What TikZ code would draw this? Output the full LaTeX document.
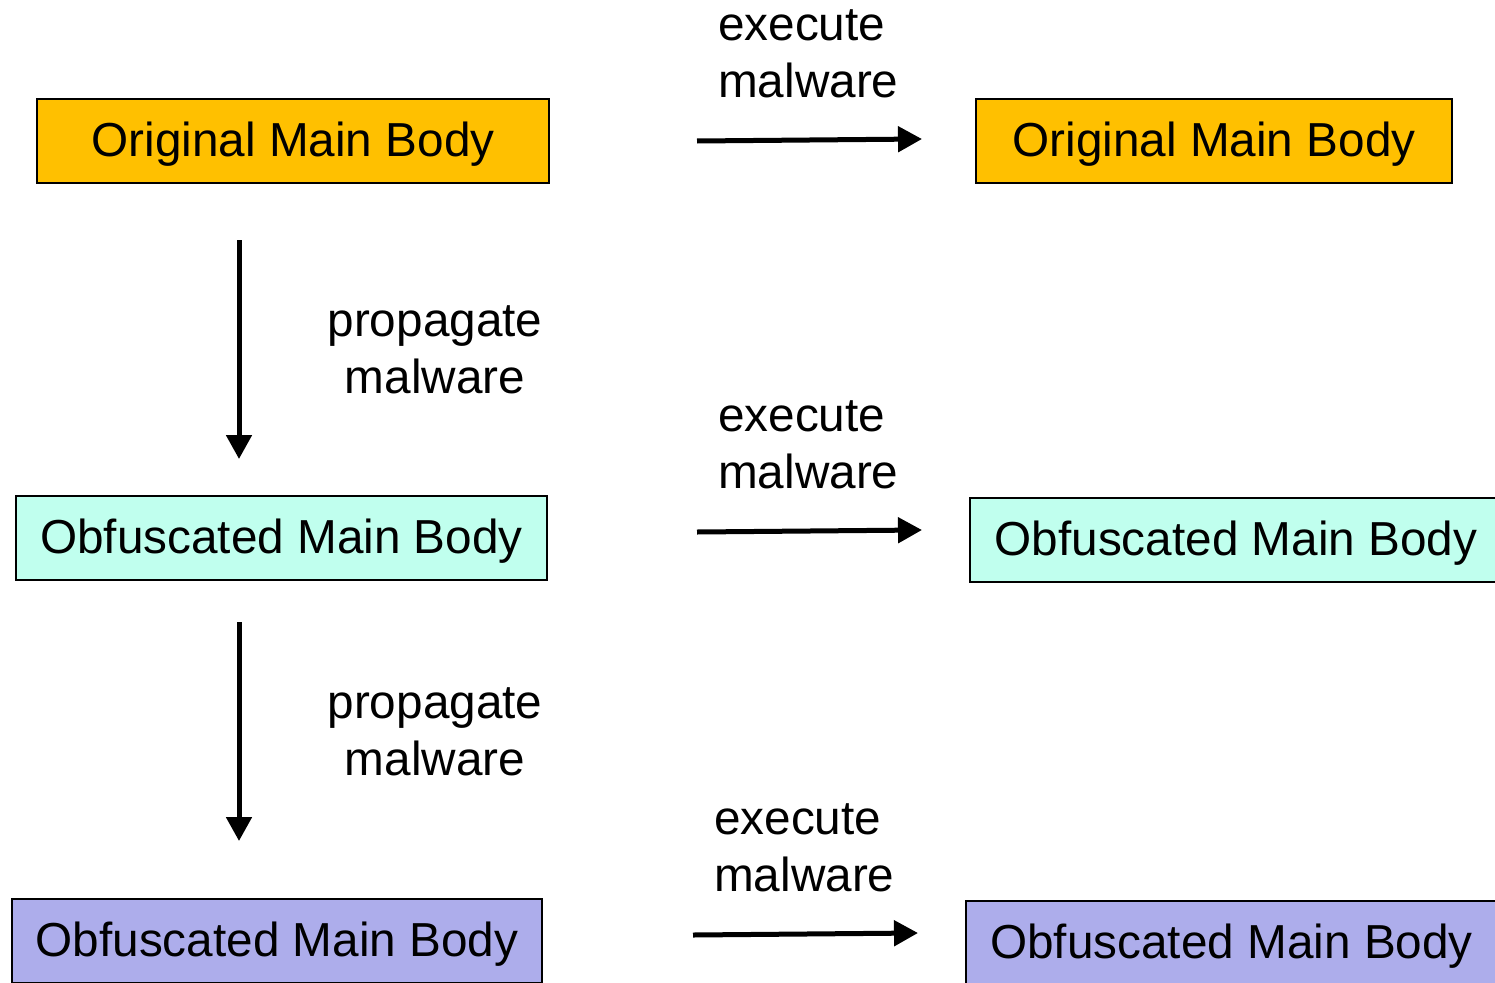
\documentclass[tikz,border=0pt]{standalone}
\usepackage{fontspec}
\setmainfont{Liberation Sans}
\usetikzlibrary{arrows.meta}
\definecolor{origfill}{RGB}{255,192,0}
\definecolor{obfcyan}{RGB}{192,255,238}
\definecolor{obfpurple}{RGB}{173,173,235}
\tikzset{
  bodybox/.style={draw=black, line width=1.5pt, inner sep=0pt,
    minimum height=84pt, text height=35pt, text depth=5pt,
    font=\fontsize{47.7}{57}\selectfont},
  flow/.style={line width=5pt, -{Triangle[length=24pt,width=25pt]}},
  execlbl/.style={inner sep=0pt, anchor=base west, align=left,
    font=\fontsize{47.7}{57}\selectfont},
  proplbl/.style={inner sep=0pt, anchor=base, align=center,
    font=\fontsize{47.7}{57}\selectfont},
}
\begin{document}
\begin{tikzpicture}[x=1pt,y=-1pt]
\useasboundingbox (0,0) rectangle (1495,982);
\clip (0,0) rectangle (1495,982);

% left column: the body as it propagates
\node[bodybox, fill=origfill, minimum width=512pt] (origL) at (293,141) {Original Main Body};
\node[bodybox, fill=obfcyan, minimum width=531pt] (cyanL) at (281.5,538) {Obfuscated Main Body};
\node[bodybox, fill=obfpurple, minimum width=530pt] (purpL) at (277,941) {Obfuscated Main Body};

% right column: the body after execution
\node[bodybox, fill=origfill, minimum width=476pt] (origR) at (1214,141) {Original Main Body};
\node[bodybox, fill=obfcyan, minimum width=532pt] (cyanR) at (1236,540) {Obfuscated Main Body};
\node[bodybox, fill=obfpurple, minimum width=531pt] (purpR) at (1231.5,943) {Obfuscated Main Body};

% arrow end points
\coordinate (x1s) at (697,141);
\coordinate (x1e) at (922,139);
\coordinate (x2s) at (697,532);
\coordinate (x2e) at (922,530);
\coordinate (x3s) at (693,935);
\coordinate (x3e) at (918,933);
\coordinate (p1s) at (239,240);
\coordinate (p1e) at (239,459);
\coordinate (p2s) at (239,622);
\coordinate (p2e) at (239,841);

\draw[flow] (x1s) -- (x1e);
\draw[flow] (x2s) -- (x2e);
\draw[flow] (x3s) -- (x3e);
\draw[flow] (p1s) -- (p1e);
\draw[flow] (p2s) -- (p2e);

% labels (base anchor sits on the last line)
\node[execlbl] (ex1) at (718,97) {execute\\malware};
\node[execlbl] (ex2) at (718,488) {execute\\malware};
\node[execlbl] (ex3) at (714,891) {execute\\malware};
\node[proplbl] (pr1) at (435,393) {propagate\\malware};
\node[proplbl] (pr2) at (435,775) {propagate\\malware};
\end{tikzpicture}
\end{document}
